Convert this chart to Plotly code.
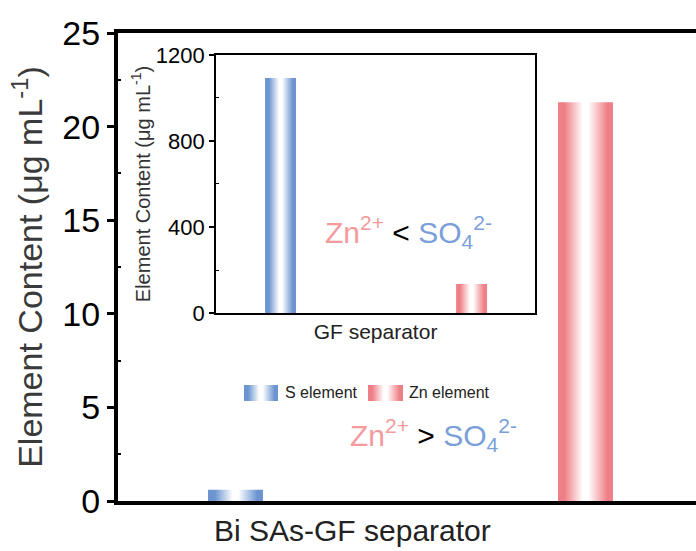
import plotly.graph_objects as go

# ---- data ----
elements = ["S element", "Zn element"]
bi_sas_gf = [0.6, 21.3]        # µg/mL, Bi SAs-GF separator
gf_plain = [1093, 135]         # µg/mL, GF separator
main_ticks = [0, 5, 10, 15, 20, 25]
inset_ticks = [0, 400, 800, 1200]

FONT = "Liberation Sans, Arial, sans-serif"
BLUE = "#6b94d0"
RED = "#ef7f86"
edge_colors = [BLUE, RED]
ZN = "#f59a9c"
SO = "#7a9fd9"

W, H = 696, 551
ML, MR, MT, MB = 118, 0, 33, 50
plot_w, plot_h = W - ML - MR, H - MT - MB


def px(xp, yp):
    """pixel position -> paper coordinates"""
    return (xp - ML) / plot_w, (H - MB - yp) / plot_h


def gradient(c):
    return [[0, c], [0.12, c], [0.45, "#ffffff"], [0.55, "#ffffff"], [0.9, c], [1, c]]


def rect(x0, x1, y0, y1):
    return [x0, x1, x1, x0, x0], [y0, y0, y1, y1, y0]


def grad_box(xs, ys, color, xa, ya):
    return go.Scatter(
        x=xs, y=ys, mode="lines", fill="toself", line=dict(width=0),
        fillgradient=dict(type="horizontal", colorscale=gradient(color)),
        showlegend=False, hoverinfo="skip", xaxis=xa, yaxis=ya)


fig = go.Figure()
positions = [0, 1]

# main bars
for i, val in enumerate(bi_sas_gf):
    xs, ys = rect(positions[i] - 0.0785, positions[i] + 0.0785, 0, val)
    fig.add_trace(grad_box(xs, ys, edge_colors[i], "x", "y"))

# inset bars
for i, val in enumerate(gf_plain):
    xs, ys = rect(positions[i] - 0.081, positions[i] + 0.081, 0, val)
    fig.add_trace(grad_box(xs, ys, edge_colors[i], "x2", "y2"))

# legend swatches on a pixel-scaled overlay axis
legend_items = [(244, 278, 283), (368, 403, 407)]
for i, (sx0, sx1, tx) in enumerate(legend_items):
    xs, ys = rect(sx0, sx1, 385, 401)
    fig.add_trace(grad_box(xs, ys, edge_colors[i], "x3", "y3"))


def ion_text(op):
    return (f"<span style='color:{ZN}'>Zn<sup>2+</sup></span> {op} "
            f"<span style='color:{SO}'>SO<sub>4</sub><sup>2-</sup></span>")


annotations = []
for (xp, yp), op in [((408, 232), "&lt;"), ((433, 458), "&gt;")]:
    ax, ay = px(xp, yp)
    annotations.append(dict(text=ion_text(op), x=ax, y=ay, xref="paper", yref="paper",
                            showarrow=False, font=dict(size=30, color="black")))

for i, (sx0, sx1, tx) in enumerate(legend_items):
    ax, ay = px(tx, 393)
    annotations.append(dict(text=elements[i], x=ax, y=ay, xref="paper", yref="paper",
                            xanchor="left", yanchor="middle", showarrow=False,
                            font=dict(size=16, color="#222")))

ax, ay = px(352, 530)
annotations.append(dict(text="Bi SAs-GF separator", x=ax, y=ay, xref="paper", yref="paper",
                        xanchor="center", yanchor="middle", showarrow=False,
                        font=dict(size=30, color="#222")))

fig.update_layout(
    width=W, height=H,
    margin=dict(l=ML, r=MR, t=MT, b=MB),
    paper_bgcolor="white", plot_bgcolor="white",
    font=dict(family=FONT, color="black"),
    showlegend=False,
    xaxis=dict(
        domain=[0, 1], range=[-0.3357, 1.3157], showticklabels=False, ticks="",
        showgrid=False, zeroline=False, showline=True, linecolor="black",
        linewidth=4, mirror=True,
    ),
    yaxis=dict(
        domain=[0, 1], range=[0, 25], tickvals=main_ticks, ticks="outside",
        ticklen=7, tickwidth=3, tickcolor="black", showgrid=False, zeroline=False,
        showline=True, linecolor="black", linewidth=4,
        tickfont=dict(size=34, color="black"),
        minor=dict(tickvals=[2.5, 7.5, 12.5, 17.5, 22.5], ticks="inside", ticklen=3,
                   tickwidth=2, tickcolor="black"),
        title=dict(text="Element Content (μg mL<sup>-1</sup>)", font=dict(size=34, color="#3a3a3a"),
                   standoff=10),
    ),
    xaxis2=dict(
        domain=[0.1696, 0.7215], anchor="y2", range=[-0.3377, 1.332],
        showticklabels=False, ticks="", showgrid=False, zeroline=False,
        showline=True, linecolor="black", linewidth=2, mirror=True,
        title=dict(text="GF separator", font=dict(size=21, color="#222"), standoff=10),
    ),
    yaxis2=dict(
        domain=[0.4017, 0.953], anchor="x2", range=[0, 1200], tickvals=inset_ticks,
        ticks="outside", ticklen=5, tickwidth=2, tickcolor="black",
        showgrid=False, zeroline=False, showline=True, linecolor="black",
        linewidth=2, mirror=True, tickfont=dict(size=22, color="black"),
        minor=dict(tickvals=[200, 600, 1000], ticks="inside", ticklen=3,
                   tickwidth=1, tickcolor="black"),
        title=dict(text="Element Content (μg mL<sup>-1</sup>)", font=dict(size=20, color="#333"),
                   standoff=0),
    ),
    xaxis3=dict(domain=[0, 1], range=[ML, W - MR], overlaying="x", visible=False,
                fixedrange=True),
    yaxis3=dict(domain=[0, 1], range=[H - MB, MT], overlaying="y", visible=False,
                fixedrange=True, anchor="x3"),
    annotations=annotations,
)

fig.write_html("out.html")
